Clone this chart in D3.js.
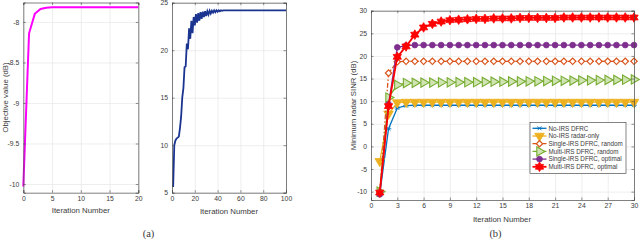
<!DOCTYPE html>
<html>
<head>
<meta charset="utf-8">
<script src="https://cdn.jsdelivr.net/npm/d3@7"></script>
<style>
  body { margin: 0; background: #fff; }
  svg { display: block; }
  text { font-family: "Liberation Sans", Arial, sans-serif; fill: #3a3a3a; }
</style>
</head>
<body>
<svg id="chart" width="640" height="240"></svg>
<script>
    // ---- data ----
    // (a) left: objective value, iterations 0..20
    const p1Obj = [-10.03, -8.14, -7.90, -7.84, -7.825, -7.82, -7.82, -7.82, -7.82, -7.82,
                   -7.82, -7.82, -7.82, -7.82, -7.82, -7.82, -7.82, -7.82, -7.82, -7.82, -7.82];
    const p1XTicks = [0, 5, 10, 15, 20];
    const p1YTicks = [-10, -9.5, -9, -8.5, -8];

    // (a) right: objective value, iterations 1..100
    const p2Obj = [5.6, 10.0, 10.5, 10.7, 10.8, 10.9, 11.8, 13.0, 15.0, 16.0,
                   18.2, 18.3, 20.7, 20.1, 22.3, 21.2, 23.1, 21.8, 23.5, 22.6,
                   23.8, 22.9, 23.9, 23.1, 24.0, 23.3, 24.05, 23.5, 24.1, 23.6,
                   24.1, 23.75, 24.15, 23.85, 24.15, 23.95, 24.2, 24.0, 24.2, 24.05,
                   24.2, 24.1, 24.2, 24.15, 24.2, 24.2, 24.2, 24.2, 24.2, 24.2,
                   24.2, 24.2, 24.2, 24.2, 24.2, 24.2, 24.2, 24.2, 24.2, 24.2,
                   24.2, 24.2, 24.2, 24.2, 24.2, 24.2, 24.2, 24.2, 24.2, 24.2,
                   24.2, 24.2, 24.2, 24.2, 24.2, 24.2, 24.2, 24.2, 24.2, 24.2,
                   24.2, 24.2, 24.2, 24.2, 24.2, 24.2, 24.2, 24.2, 24.2, 24.2,
                   24.2, 24.2, 24.2, 24.2, 24.2, 24.2, 24.2, 24.2, 24.2, 24.2];
    const p2XTicks = [0, 20, 40, 60, 80, 100];
    const p2YTicks = [5, 10, 15, 20, 25];

    // (b): minimum radar SINR, iterations 1..30
    const p3Iter = [1, 2, 3, 4, 5, 6, 7, 8, 9, 10, 11, 12, 13, 14, 15,
                    16, 17, 18, 19, 20, 21, 22, 23, 24, 25, 26, 27, 28, 29, 30];
    const noIrsDfrc = [-10.5, 3.9, 8.5, 9.0, 9.1, 9.1, 9.1, 9.1, 9.1, 9.1, 9.1, 9.1, 9.1, 9.1, 9.1,
                       9.1, 9.1, 9.1, 9.1, 9.1, 9.1, 9.1, 9.1, 9.1, 9.1, 9.1, 9.1, 9.1, 9.1, 9.1];
    const noIrsRadar = [-3.3, 7.2, 9.7, 9.8, 9.8, 9.8, 9.8, 9.8, 9.8, 9.8, 9.8, 9.8, 9.8, 9.8, 9.8,
                        9.8, 9.8, 9.8, 9.8, 9.8, 9.8, 9.8, 9.8, 9.8, 9.8, 9.8, 9.8, 9.8, 9.8, 9.8];
    const singleRandom = [-10.2, 16.2, 18.7, 18.8, 18.8, 18.8, 18.8, 18.8, 18.8, 18.8, 18.8, 18.8, 18.8, 18.8, 18.8,
                          18.8, 18.8, 18.8, 18.8, 18.8, 18.8, 18.8, 18.8, 18.8, 18.8, 18.8, 18.8, 18.8, 18.8, 18.8];
    const multiRandom = [-10.0, 10.8, 13.6, 14.0, 14.05, 14.1, 14.1, 14.15, 14.15, 14.2, 14.2, 14.2, 14.25, 14.3, 14.3,
                         14.35, 14.35, 14.4, 14.4, 14.45, 14.5, 14.5, 14.55, 14.6, 14.6, 14.65, 14.7, 14.7, 14.75, 14.8];
    const singleOpt = [-10.6, 9.3, 21.9, 22.3, 22.4, 22.4, 22.4, 22.4, 22.4, 22.4, 22.4, 22.4, 22.4, 22.4, 22.4,
                       22.4, 22.4, 22.4, 22.4, 22.4, 22.4, 22.4, 22.4, 22.4, 22.4, 22.4, 22.4, 22.4, 22.4, 22.4];
    const multiOpt = [-10.2, 8.9, 19.8, 22.1, 24.7, 26.3, 27.1, 27.6, 27.9, 28.0, 28.1, 28.2, 28.2, 28.3, 28.3,
                      28.3, 28.4, 28.4, 28.4, 28.4, 28.4, 28.5, 28.5, 28.5, 28.5, 28.5, 28.5, 28.5, 28.5, 28.5];
    const p3XTicks = [0, 3, 6, 9, 12, 15, 18, 21, 24, 27, 30];
    const p3YTicks = [-10, -5, 0, 5, 10, 15, 20, 25, 30];
    const seriesNames = ["No-IRS DFRC", "No-IRS radar-only", "Single-IRS DFRC, random",
                         "Multi-IRS DFRC, random", "Single-IRS DFRC, optimal", "Multi-IRS DFRC, optimal"];

    const svg = d3.select("#chart");
    const gridColor = "#e6e6e6";
    const axisColor = "#4a4a4a";

    function makePanel(box, xDom, yDom, xTicks, yTicks) {
        const x = d3.scaleLinear().domain(xDom).range([box.l, box.r]);
        const y = d3.scaleLinear().domain(yDom).range([box.b, box.t]);
        const g = svg.append("g");

        // grid
        g.append("g").attr("transform", "translate(0," + box.b + ")")
            .call(d3.axisBottom(x).tickValues(xTicks).tickSize(-(box.b - box.t)).tickFormat(""))
            .call(s => s.select(".domain").remove())
            .selectAll("line").attr("stroke", gridColor).attr("stroke-width", 0.7);
        g.append("g").attr("transform", "translate(" + box.l + ",0)")
            .call(d3.axisLeft(y).tickValues(yTicks).tickSize(-(box.r - box.l)).tickFormat(""))
            .call(s => s.select(".domain").remove())
            .selectAll("line").attr("stroke", gridColor).attr("stroke-width", 0.7);

        // the data layer sits between grid and frame
        const plot = g.append("g");

        // axes with inward ticks, on all four sides
        const fmt = d => String(d);
        const bottom = g.append("g").attr("transform", "translate(0," + box.b + ")")
            .call(d3.axisBottom(x).tickValues(xTicks).tickSize(-2.5).tickPadding(3.5).tickFormat(fmt));
        const left = g.append("g").attr("transform", "translate(" + box.l + ",0)")
            .call(d3.axisLeft(y).tickValues(yTicks).tickSize(-2.5).tickPadding(4).tickFormat(fmt));
        const top = g.append("g").attr("transform", "translate(0," + box.t + ")")
            .call(d3.axisTop(x).tickValues(xTicks).tickSize(-2.5).tickFormat(""));
        const right = g.append("g").attr("transform", "translate(" + box.r + ",0)")
            .call(d3.axisRight(y).tickValues(yTicks).tickSize(-2.5).tickFormat(""));
        [bottom, left, top, right].forEach(a => {
            a.selectAll(".domain").attr("stroke", axisColor).attr("stroke-width", 0.7);
            a.selectAll("line").attr("stroke", axisColor).attr("stroke-width", 0.6);
            a.selectAll("text").attr("font-size", 6.8).attr("fill", "#444")
                .attr("font-family", "'Liberation Sans', Arial, sans-serif");
        });
        return { g, plot, x, y };
    }

    // ---- panel (a) left ----
    const pA = makePanel({ l: 23.3, r: 138.3, t: 2.5, b: 192.7 }, [0, 20], [-10.107, -7.76], p1XTicks, p1YTicks);
    pA.plot.append("path")
        .datum(p1Obj)
        .attr("fill", "none")
        .attr("stroke", "#ff00ff")
        .attr("stroke-width", 2)
        .attr("d", d3.line().x((d, i) => pA.x(i)).y(d => pA.y(d)));
    pA.g.append("text").attr("x", 80.8).attr("y", 213).attr("text-anchor", "middle")
        .attr("font-size", 7.8).text("Iteration Number");
    pA.g.append("text").attr("transform", "translate(7.5,97.5) rotate(-90)").attr("text-anchor", "middle")
        .attr("font-size", 7.8).text("Objective value (dB)");

    // ---- panel (a) right ----
    const pB = makePanel({ l: 172, r: 286, t: 2.7, b: 192.7 }, [0, 100], [5, 25], p2XTicks, p2YTicks);
    pB.plot.append("path")
        .datum(p2Obj)
        .attr("fill", "none")
        .attr("stroke", "#1a3490")
        .attr("stroke-width", 1.8)
        .attr("d", d3.line().x((d, i) => pB.x(i + 1)).y(d => pB.y(d)));
    pB.g.append("text").attr("x", 229).attr("y", 213.5).attr("text-anchor", "middle")
        .attr("font-size", 7.8).text("Iteration Number");

    // ---- panel (b) ----
    const pC = makePanel({ l: 371, r: 634, t: 10.7, b: 200 }, [0, 30], [-11.85, 30], p3XTicks, p3YTicks);

    // marker shapes
    function hexagram(r) {
        const pts = [];
        for (let k = 0; k < 12; k++) {
            const a = Math.PI / 2 + k * Math.PI / 6;
            const rr = k % 2 === 0 ? r : r * 0.58;
            pts.push([rr * Math.cos(a), -rr * Math.sin(a)]);
        }
        return "M" + pts.map(p => p.join(",")).join("L") + "Z";
    }
    function asterisk(r) {
        const s = r * 0.7;
        return "M" + (-r) + ",0L" + r + ",0M" + (-s) + "," + (-s) + "L" + s + "," + s + "M" + (-s) + "," + s + "L" + s + "," + (-s);
    }
    const markers = [
        { path: asterisk(2.8), rot: 0, fill: "none", sw: 0.9 },
        { path: d3.symbol().type(d3.symbolTriangle).size(40)(), rot: 180, fill: "color", sw: 0.8 },
        { path: d3.symbol().type(d3.symbolSquare).size(20)(), rot: 45, fill: "#fff", sw: 1.2 },
        { path: d3.symbol().type(d3.symbolTriangle).size(38)(), rot: 90, fill: "#cfe3b3", sw: 1.1 },
        { path: d3.symbol().type(d3.symbolCircle).size(26)(), rot: 0, fill: "color", sw: 0.8 },
        { path: hexagram(4.8), rot: 0, fill: "color", sw: 0.8 }
    ];
    const colors = ["#0072BD", "#EDB120", "#D95319", "#77AC30", "#7E2F8E", "#FF0000"];
    const dashes = [null, null, "5,2,1.5,2", null, null, null];
    const widths = [1.3, 1.3, 1.3, 1.3, 1.3, 1.8];
    const allSeries = [noIrsDfrc, noIrsRadar, singleRandom, multiRandom, singleOpt, multiOpt];

    const lineC = d3.line().x((d, i) => pC.x(p3Iter[i])).y(d => pC.y(d));
    allSeries.forEach((vals, k) => {
        const sg = pC.plot.append("g");
        sg.append("path").datum(vals)
            .attr("fill", "none")
            .attr("stroke", colors[k])
            .attr("stroke-width", widths[k])
            .attr("stroke-dasharray", dashes[k])
            .attr("d", lineC);
        sg.selectAll("path.mk").data(vals).join("path")
            .attr("class", "mk")
            .attr("d", markers[k].path)
            .attr("transform", (d, i) => "translate(" + pC.x(p3Iter[i]) + "," + pC.y(d) + ") rotate(" + markers[k].rot + ")")
            .attr("fill", markers[k].fill === "color" ? colors[k] : markers[k].fill)
            .attr("stroke", colors[k])
            .attr("stroke-width", markers[k].sw);
    });

    // legend
    const leg = pC.g.append("g");
    leg.append("rect").attr("x", 530).attr("y", 122.5).attr("width", 96).attr("height", 51)
        .attr("fill", "#fff").attr("stroke", "#333").attr("stroke-width", 0.6);
    seriesNames.forEach((name, k) => {
        const yy = 128.3 + k * 7.7;
        leg.append("line").attr("x1", 532.5).attr("x2", 546.5).attr("y1", yy).attr("y2", yy)
            .attr("stroke", colors[k]).attr("stroke-width", widths[k])
            .attr("stroke-dasharray", dashes[k]);
        leg.append("path").attr("d", markers[k].path)
            .attr("transform", "translate(539.5," + yy + ") rotate(" + markers[k].rot + ")")
            .attr("fill", markers[k].fill === "color" ? colors[k] : markers[k].fill)
            .attr("stroke", colors[k]).attr("stroke-width", markers[k].sw);
        leg.append("text").attr("x", 548.5).attr("y", yy).attr("dy", "0.35em")
            .attr("font-size", 6.3).attr("fill", "#333").text(name);
    });

    pC.g.append("text").attr("x", 502).attr("y", 221.5).attr("text-anchor", "middle")
        .attr("font-size", 7.8).text("Iteration Number");
    pC.g.append("text").attr("transform", "translate(355.5,105.5) rotate(-90)").attr("text-anchor", "middle")
        .attr("font-size", 7.8).text("Minimum radar SINR (dB)");

    // captions
    svg.append("text").attr("x", 148.5).attr("y", 236.5).attr("text-anchor", "middle")
        .style("font-family", "'Liberation Serif', serif").attr("font-size", 10.5).text("(a)");
    svg.append("text").attr("x", 495.5).attr("y", 236.5).attr("text-anchor", "middle")
        .style("font-family", "'Liberation Serif', serif").attr("font-size", 10.5).text("(b)");
</script>
</body>
</html>
